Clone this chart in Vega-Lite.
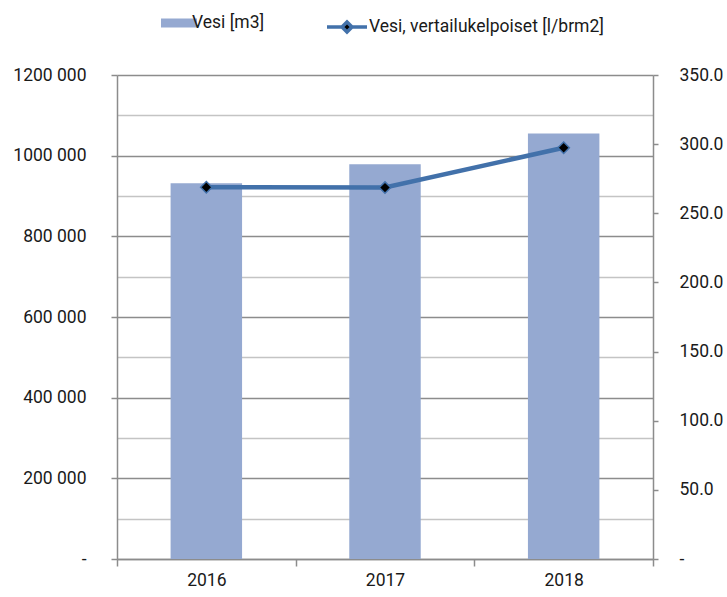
{
  "$schema": "https://vega.github.io/schema/vega-lite/v6.json",
  "width": 536,
  "height": 484,
  "autosize": "none",
  "padding": {"left": 117, "top": 75, "right": 74, "bottom": 38},
  "background": "white",
  "config": {
    "font": "Roboto, sans-serif",
    "view": {"stroke": null},
    "axis": {"labelFont": "Roboto, sans-serif", "labelFontSize": 17.5, "labelColor": "#1a1a1a"},
    "legend": {"labelFont": "Roboto, sans-serif", "labelFontSize": 17.5, "labelColor": "#1a1a1a", "labelLimit": 0}
  },
  "data": {
    "values": [
      {"year": "2016", "vesi": 931500, "vertailu": 268.8},
      {"year": "2017", "vesi": 978600, "vertailu": 268.6},
      {"year": "2018", "vesi": 1055000, "vertailu": 297.4}
    ]
  },
  "encoding": {
    "x": {
      "field": "year",
      "type": "ordinal",
      "scale": {"paddingInner": 0, "paddingOuter": 0},
      "axis": {
        "title": null,
        "labelAngle": 0,
        "tickBand": "extent",
        "tickSize": 7,
        "tickColor": "#8c8c8c",
        "tickWidth": 1.5,
        "domainColor": "#8c8c8c",
        "domainWidth": 1.5,
        "labelPadding": 5,
        "grid": false
      }
    }
  },
  "layer": [
    {
      "mark": {"type": "bar", "color": "#95a9d1", "width": {"band": 0.4}},
      "encoding": {
        "y": {
          "field": "vesi",
          "type": "quantitative",
          "scale": {"domain": [0, 1200000], "nice": false},
          "axis": {
            "title": null,
            "orient": "left",
            "values": [0, 100000, 200000, 300000, 400000, 500000, 600000, 700000, 800000, 900000, 1000000, 1100000, 1200000],
            "labelExpr": "datum.value % 200000 != 0 ? '' : (datum.value == 0 ? '-' : floor(datum.value / 1000) + ' 000')",
            "grid": true,
            "gridColor": {"condition": {"test": "datum.value % 200000 == 0", "value": "#8c8c8c"}, "value": "#c4c4c4"},
            "gridWidth": 1.5,
            "tickSize": 6,
            "tickColor": "#8c8c8c",
            "tickWidth": 1.5,
            "tickOpacity": {"condition": {"test": "datum.value % 200000 == 0", "value": 1}, "value": 0},
            "domainColor": "#8c8c8c",
            "domainWidth": 1.5,
            "labelPadding": 25
          }
        },
        "fill": {
          "datum": "Vesi [m3]",
          "type": "nominal",
          "scale": {"range": ["#95a9d1"]},
          "legend": {
            "title": null,
            "orient": "none",
            "legendX": 44,
            "legendY": -70,
            "padding": 0,
            "symbolType": "M-1,-0.25H1V0.25H-1Z",
            "symbolSize": 1296,
            "symbolStrokeWidth": 0,
            "labelOffset": -5
          }
        }
      }
    },
    {
      "mark": {"type": "line", "color": "#4271aa", "strokeWidth": 4.5, "point": {"shape": "diamond", "filled": true, "fill": "black", "stroke": "#4271aa", "strokeWidth": 1.5, "size": 130}},
      "encoding": {
        "y": {
          "field": "vertailu",
          "type": "quantitative",
          "scale": {"domain": [0, 350], "nice": false},
          "axis": {
            "title": null,
            "orient": "right",
            "values": [0, 50, 100, 150, 200, 250, 300, 350],
            "labelExpr": "datum.value == 0 ? '-' : format(datum.value, '.1f')",
            "grid": false,
            "tickSize": 5,
            "tickColor": "#8c8c8c",
            "tickWidth": 1.5,
            "domainColor": "#8c8c8c",
            "domainWidth": 1.5,
            "labelPadding": 21
          }
        },
        "stroke": {
          "datum": "Vesi, vertailukelpoiset [l/brm2]",
          "type": "nominal",
          "scale": {"range": ["#4271aa"]},
          "legend": {
            "title": null,
            "orient": "none",
            "legendX": 208,
            "legendY": -70,
            "padding": 0,
            "symbolType": "M-1,0H-0.25M0.25,0H1M0,-0.25L0.25,0L0,0.25L-0.25,0Z",
            "symbolSize": 1600,
            "symbolFillColor": "black",
            "symbolStrokeWidth": 3.5,
            "labelOffset": 0
          }
        }
      }
    }
  ],
  "resolve": {"scale": {"y": "independent", "fill": "independent", "stroke": "independent"}}
}
